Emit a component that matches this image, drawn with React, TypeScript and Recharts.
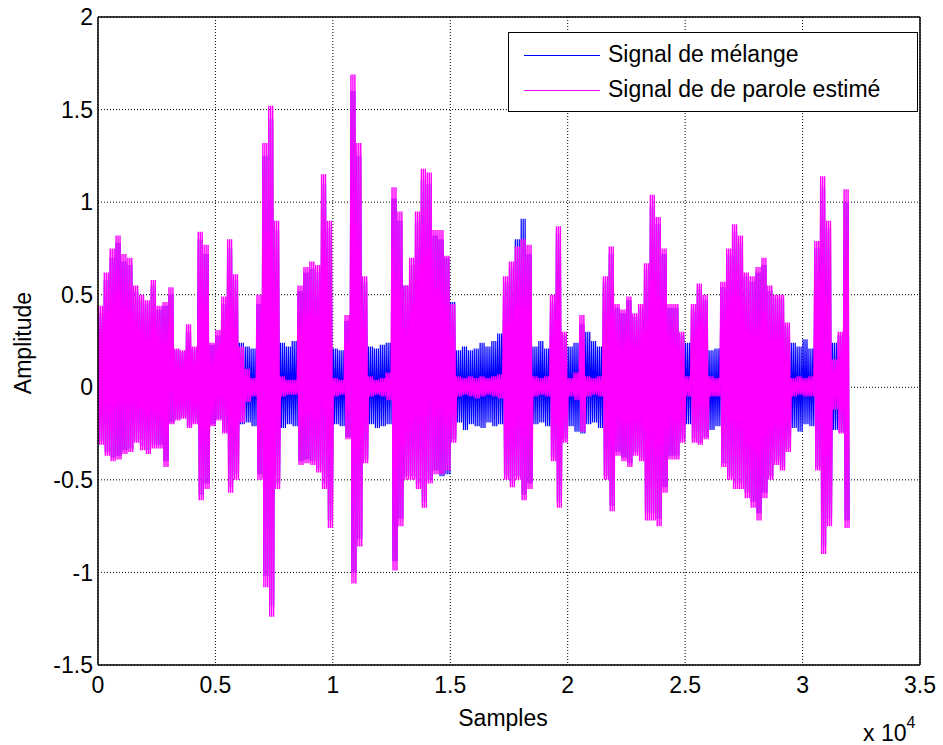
import React from 'react'
import { LineChart, Line, XAxis, YAxis, CartesianGrid, ReferenceLine } from 'recharts'

// envelope of each signal, one max/min pair per 250 samples
const BIN = 250
const SWINGS = 3 // oscillations drawn inside each bin

const paroleHi = [
  0.44, 0.62, 0.75, 0.82, 0.72, 0.70, 0.55, 0.50, 0.47, 0.58,
  0.44, 0.46, 0.54, 0.21, 0.20, 0.34, 0.22, 0.84, 0.77, 0.24,
  0.31, 0.49, 0.80, 0.61, 0.22, 0.10, 0.05, 0.50, 1.32, 1.52,
  0.90, 0.06, 0.04, 0.04, 0.55, 0.65, 0.68, 0.66, 1.15, 0.90,
  0.05, 0.04, 0.39, 1.69, 1.32, 0.60, 0.06, 0.04, 0.05, 0.08,
  1.08, 0.95, 0.55, 0.70, 0.95, 1.18, 1.16, 0.85, 0.85, 0.71,
  0.45, 0.06, 0.05, 0.06, 0.05, 0.06, 0.05, 0.06, 0.07, 0.60,
  0.68, 0.76, 0.80, 0.77, 0.06, 0.05, 0.06, 0.50, 0.87, 0.30,
  0.05, 0.08, 0.39, 0.06, 0.05, 0.06, 0.60, 0.76, 0.45, 0.42,
  0.49, 0.40, 0.45, 0.67, 1.04, 0.92, 0.75, 0.45, 0.45, 0.30,
  0.06, 0.45, 0.56, 0.50, 0.06, 0.05, 0.57, 0.75, 0.88, 0.82,
  0.62, 0.60, 0.65, 0.70, 0.55, 0.50, 0.50, 0.35, 0.05, 0.06,
  0.05, 0.06, 0.79, 1.14, 0.90, 0.15, 0.30, 1.07,
]
const paroleLo = [
  -0.31, -0.37, -0.40, -0.39, -0.36, -0.35, -0.30, -0.34, -0.36, -0.33,
  -0.33, -0.43, -0.20, -0.18, -0.17, -0.22, -0.20, -0.61, -0.55, -0.21,
  -0.18, -0.25, -0.57, -0.50, -0.19, -0.08, -0.05, -0.50, -1.08, -1.24,
  -0.55, -0.05, -0.04, -0.04, -0.42, -0.41, -0.42, -0.46, -0.55, -0.76,
  -0.05, -0.04, -0.28, -1.06, -0.86, -0.41, -0.05, -0.04, -0.05, -0.07,
  -0.99, -0.75, -0.50, -0.50, -0.55, -0.65, -0.52, -0.47, -0.47, -0.45,
  -0.30, -0.05, -0.04, -0.05, -0.06, -0.05, -0.04, -0.05, -0.06, -0.50,
  -0.54, -0.50, -0.61, -0.55, -0.05, -0.04, -0.05, -0.40, -0.65, -0.30,
  -0.05, -0.07, -0.24, -0.05, -0.04, -0.05, -0.50, -0.67, -0.37, -0.40,
  -0.43, -0.37, -0.40, -0.72, -0.72, -0.75, -0.57, -0.39, -0.39, -0.30,
  -0.05, -0.30, -0.31, -0.28, -0.05, -0.05, -0.43, -0.50, -0.55, -0.55,
  -0.60, -0.65, -0.72, -0.60, -0.50, -0.42, -0.45, -0.35, -0.05, -0.04,
  -0.05, -0.05, -0.45, -0.90, -0.75, -0.12, -0.25, -0.76,
]
const melangeHi = [
  0.40, 0.58, 0.70, 0.78, 0.68, 0.66, 0.52, 0.47, 0.45, 0.55,
  0.42, 0.44, 0.50, 0.20, 0.19, 0.30, 0.21, 0.80, 0.72, 0.23,
  0.28, 0.45, 0.75, 0.58, 0.24, 0.22, 0.21, 0.45, 1.25, 1.45,
  0.85, 0.24, 0.22, 0.25, 0.52, 0.62, 0.64, 0.62, 1.10, 0.86,
  0.21, 0.20, 0.36, 1.60, 1.25, 0.57, 0.22, 0.21, 0.23, 0.24,
  1.02, 0.90, 0.55, 0.66, 0.90, 1.12, 1.10, 0.82, 0.80, 0.70,
  0.46, 0.20, 0.22, 0.20, 0.21, 0.24, 0.22, 0.25, 0.29, 0.57,
  0.65, 0.80, 0.91, 0.72, 0.22, 0.25, 0.21, 0.46, 0.83, 0.28,
  0.22, 0.24, 0.34, 0.30, 0.25, 0.22, 0.57, 0.72, 0.43, 0.40,
  0.47, 0.38, 0.43, 0.64, 0.98, 0.88, 0.72, 0.43, 0.43, 0.28,
  0.24, 0.42, 0.53, 0.47, 0.20, 0.21, 0.54, 0.72, 0.84, 0.78,
  0.60, 0.57, 0.62, 0.66, 0.52, 0.48, 0.48, 0.33, 0.24, 0.22,
  0.26, 0.21, 0.75, 1.08, 0.86, 0.24, 0.28, 1.00,
]
const melangeLo = [
  -0.29, -0.35, -0.38, -0.37, -0.34, -0.33, -0.28, -0.32, -0.34, -0.31,
  -0.31, -0.40, -0.19, -0.17, -0.16, -0.21, -0.19, -0.58, -0.52, -0.20,
  -0.17, -0.24, -0.54, -0.47, -0.20, -0.19, -0.21, -0.47, -1.02, -1.18,
  -0.52, -0.22, -0.20, -0.21, -0.40, -0.39, -0.40, -0.44, -0.52, -0.72,
  -0.20, -0.21, -0.27, -1.00, -0.82, -0.39, -0.20, -0.22, -0.21, -0.20,
  -0.94, -0.71, -0.48, -0.48, -0.52, -0.62, -0.50, -0.45, -0.48, -0.47,
  -0.28, -0.19, -0.23, -0.20, -0.21, -0.22, -0.19, -0.21, -0.20, -0.48,
  -0.51, -0.48, -0.58, -0.52, -0.20, -0.19, -0.21, -0.38, -0.62, -0.28,
  -0.21, -0.24, -0.25, -0.20, -0.19, -0.22, -0.48, -0.64, -0.35, -0.38,
  -0.41, -0.35, -0.38, -0.68, -0.68, -0.71, -0.54, -0.37, -0.37, -0.28,
  -0.20, -0.28, -0.30, -0.27, -0.23, -0.21, -0.41, -0.48, -0.52, -0.52,
  -0.57, -0.62, -0.68, -0.57, -0.48, -0.40, -0.43, -0.33, -0.22, -0.24,
  -0.20, -0.21, -0.43, -0.86, -0.71, -0.23, -0.24, -0.72,
]

const xTicks = [0, 5000, 10000, 15000, 20000, 25000, 30000, 35000]
const yTicks = [-1.5, -1, -0.5, 0, 0.5, 1, 1.5, 2]

const legendItems = [
  { label: 'Signal de mélange', color: '#0000ff' },
  { label: 'Signal de de parole estimé', color: '#ff00ff' },
]

// zigzag between the max and min of each bin, a few swings per bin
const step = BIN / (SWINGS * 2)
const chartData = paroleHi.flatMap((_, i) =>
  Array.from({ length: SWINGS * 2 }, (_, k) => {
    const up = k % 2 === 0
    return {
      s: i * BIN + k * step + step / 2,
      melange: up ? melangeHi[i] : melangeLo[i],
      parole: up ? paroleHi[i] : paroleLo[i],
    }
  }),
)

const FONT = '"Liberation Sans", Arial, sans-serif'
const tickStyle = { fontSize: 23, fill: '#000', fontFamily: FONT }

export default function App() {
  return (
    <div style={{ position: 'absolute', left: 0, top: 0, width: 943, height: 745, background: '#fff', fontFamily: FONT }}>
      <LineChart width={943} height={745} data={chartData} margin={{ top: 17, right: 23, bottom: 0, left: 0 }}>
        <CartesianGrid stroke="#000" strokeDasharray="1 2" />
        <XAxis
          dataKey="s"
          type="number"
          domain={[0, 35000]}
          ticks={xTicks}
          tickFormatter={v => String(v / 10000)}
          height={80}
          tick={tickStyle}
          tickLine={false}
          tickSize={6}
          tickMargin={6}
          axisLine={{ stroke: '#000', strokeWidth: 1.5 }}
        />
        <YAxis
          type="number"
          domain={[-1.5, 2]}
          ticks={yTicks}
          width={98}
          tick={tickStyle}
          tickLine={false}
          tickSize={5}
          tickMargin={0}
          axisLine={{ stroke: '#000', strokeWidth: 1.5 }}
        />
        <ReferenceLine y={2} stroke="#000" strokeWidth={1.5} />
        <ReferenceLine x={35000} stroke="#000" strokeWidth={1.5} />
        <Line dataKey="melange" stroke="#0000ff" strokeWidth={1.2} dot={false} isAnimationActive={false} />
        <Line dataKey="parole" stroke="#ff00ff" strokeWidth={1.4} dot={false} isAnimationActive={false} />
      </LineChart>

      {/* axis labels */}
      <div style={{ position: 'absolute', left: 503, top: 718, transform: 'translate(-50%, -50%)', fontSize: 23, color: '#000', whiteSpace: 'nowrap' }}>
        Samples
      </div>
      <div style={{ position: 'absolute', left: 23, top: 343, transform: 'translate(-50%, -50%) rotate(-90deg)', fontSize: 23, color: '#000', whiteSpace: 'nowrap' }}>
        Amplitude
      </div>
      <div style={{ position: 'absolute', left: 863, top: 719, fontSize: 23, color: '#000', whiteSpace: 'nowrap', lineHeight: 1 }}>
        x 10<sup style={{ fontSize: 16, position: 'relative', top: -4 }}>4</sup>
      </div>

      {/* legend */}
      <div style={{ position: 'absolute', left: 508, top: 32, width: 410, height: 80, boxSizing: 'border-box', border: '1px solid #000', background: '#fff' }}>
        {legendItems.map((it, i) => (
          <div key={it.label} style={{ position: 'absolute', left: 15, top: 6 + i * 35, height: 31, display: 'flex', alignItems: 'center', fontSize: 23, color: '#000', whiteSpace: 'nowrap' }}>
            <svg width={76} height={4} style={{ marginRight: 8, display: 'block' }}>
              <line x1={0} x2={76} y1={2} y2={2} stroke={it.color} strokeWidth={1} shapeRendering="crispEdges" />
            </svg>
            {it.label}
          </div>
        ))}
      </div>
    </div>
  )
}
